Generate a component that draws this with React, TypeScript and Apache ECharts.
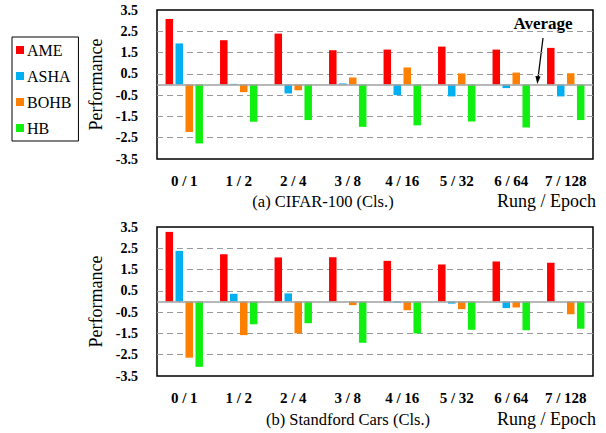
import React, { useEffect, useRef } from 'react';
import * as echarts from 'echarts';

const categories = ['0 / 1', '1 / 2', '2 / 4', '3 / 8', '4 / 16', '5 / 32', '6 / 64', '7 / 128'];
const methods = ['AME', 'ASHA', 'BOHB', 'HB'];
const colors = ['#FF0000', '#00B0F0', '#FF8000', '#10F010'];
const yLabelTicks = [-3.5, -2.5, -1.5, -0.5, 0.5, 1.5, 2.5, 3.5];
const yGridTicks = [-2.5, -1.5, -0.5, 0.5, 1.5, 2.5];

const cifarAME = [3.08, 2.08, 2.39, 1.61, 1.64, 1.78, 1.64, 1.72];
const cifarASHA = [1.93, 0.03, -0.42, 0.05, -0.5, -0.56, -0.17, -0.56];
const cifarBOHB = [-2.23, -0.36, -0.27, 0.33, 0.8, 0.52, 0.56, 0.53];
const cifarHB = [-2.77, -1.75, -1.67, -1.99, -1.92, -1.74, -2.02, -1.67];

const carsAME = [3.27, 2.22, 2.07, 2.08, 1.91, 1.74, 1.88, 1.82];
const carsASHA = [2.38, 0.36, 0.38, 0.0, -0.05, -0.1, -0.31, 0.0];
const carsBOHB = [-2.64, -1.58, -1.5, -0.17, -0.41, -0.36, -0.28, -0.6];
const carsHB = [-3.07, -1.07, -1.02, -1.94, -1.5, -1.33, -1.35, -1.28];

const panelTitles = ['(a) CIFAR-100 (Cls.)', '(b) Standford Cars (Cls.)'];
const xAxisTitle = 'Rung / Epoch';
const yAxisTitle = 'Performance';
const annotation = 'Average';

const FONT = "'Liberation Serif', 'Times New Roman', serif";

export default function App() {
  const ref = useRef<HTMLDivElement>(null);

  useEffect(() => {
    document.body.style.margin = '0';
    if (!ref.current) return;
    const chart = echarts.init(ref.current, undefined, { renderer: 'svg' });

    const panels = [
      [cifarAME, cifarASHA, cifarBOHB, cifarHB],
      [carsAME, carsASHA, carsBOHB, carsHB],
    ];
    const tops = [10, 227];

    const grids = tops.map((t) => ({
      left: 157,
      top: t,
      width: 436,
      height: 149,
      show: true,
      borderColor: '#000',
      borderWidth: 1.5,
      backgroundColor: 'transparent',
    }));

    const xAxes = tops.map((_, i) => ({
      type: 'category',
      gridIndex: i,
      data: categories,
      axisLine: { show: false },
      axisTick: { show: false },
      axisLabel: {
        margin: 14,
        color: '#000',
        fontFamily: FONT,
        fontWeight: 'bold',
        fontSize: 15,
      },
      splitLine: { show: false },
    }));

    const yAxes = tops.map((_, i) => ({
      type: 'value',
      gridIndex: i,
      min: -3.5,
      max: 3.5,
      name: yAxisTitle,
      nameLocation: 'middle',
      nameRotate: 90,
      nameGap: 49,
      nameTextStyle: { color: '#000', fontFamily: FONT, fontSize: 18 },
      axisLine: { show: false },
      axisTick: { show: false, customValues: yGridTicks },
      axisLabel: {
        customValues: yLabelTicks,
        margin: 19,
        color: '#000',
        fontFamily: FONT,
        fontWeight: 'bold',
        fontSize: 14,
        formatter: (v: number) => v.toFixed(1),
      },
      splitLine: {
        show: true,
        lineStyle: { color: '#999', type: [6, 4], width: 1 },
      },
    }));

    const series: any[] = [];
    panels.forEach((panel, pi) => {
      panel.forEach((vals, si) => {
        const s: any = {
          type: 'bar',
          name: methods[si],
          xAxisIndex: pi,
          yAxisIndex: pi,
          data: vals,
          barWidth: 7.5,
          barGap: '33%',
          itemStyle: { color: colors[si] },
        };
        if (si === 0) {
          s.markLine = {
            silent: true,
            symbol: 'none',
            label: { show: false },
            lineStyle: { color: '#a0a0a0', type: 'solid', width: 1.5 },
            data: [{ yAxis: 0 }],
          };
        }
        series.push(s);
      });
    });

    chart.setOption({
      animation: false,
      backgroundColor: '#fff',
      legend: {
        data: methods,
        orient: 'vertical',
        left: 12,
        top: 37,
        icon: 'rect',
        itemWidth: 8,
        itemHeight: 8,
        itemGap: 10,
        padding: [5, 7, 5, 4],
        borderColor: '#000',
        borderWidth: 1,
        textStyle: { color: '#000', fontFamily: FONT, fontSize: 16, padding: [0, 0, 0, -2] },
      },
      grid: grids,
      xAxis: xAxes,
      yAxis: yAxes,
      series,
      graphic: [
        {
          type: 'text',
          x: 323,
          y: 201,
          style: { text: panelTitles[0], fill: '#000', font: `16.5px ${FONT}`, textAlign: 'center', textVerticalAlign: 'middle' },
        },
        {
          type: 'text',
          x: 348,
          y: 419,
          style: { text: panelTitles[1], fill: '#000', font: `16.5px ${FONT}`, textAlign: 'center', textVerticalAlign: 'middle' },
        },
        {
          type: 'text',
          x: 596,
          y: 201,
          style: { text: xAxisTitle, fill: '#000', font: `18px ${FONT}`, textAlign: 'right', textVerticalAlign: 'middle' },
        },
        {
          type: 'text',
          x: 596,
          y: 419,
          style: { text: xAxisTitle, fill: '#000', font: `18px ${FONT}`, textAlign: 'right', textVerticalAlign: 'middle' },
        },
        {
          type: 'text',
          x: 543,
          y: 23,
          style: { text: annotation, fill: '#000', font: `bold 17px ${FONT}`, textAlign: 'center', textVerticalAlign: 'middle' },
        },
        {
          type: 'line',
          shape: { x1: 543, y1: 38, x2: 538, y2: 78 },
          style: { stroke: '#000', lineWidth: 1.3 },
        },
        {
          type: 'polygon',
          shape: { points: [[537.3, 84], [540.6, 76.5], [535.4, 75.9]] },
          style: { fill: '#000' },
        },
      ],
    });

    return () => chart.dispose();
  }, []);

  return <div ref={ref} style={{ width: 606, height: 433 }} />;
}
